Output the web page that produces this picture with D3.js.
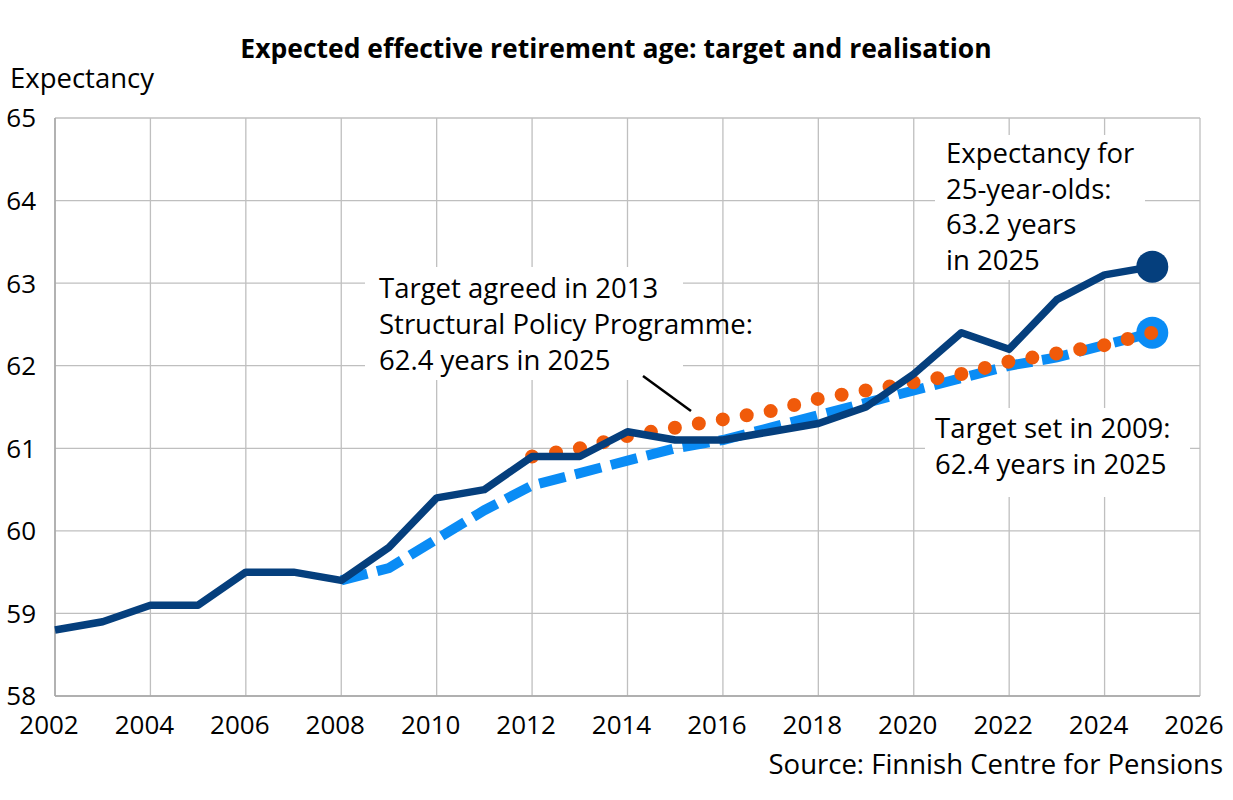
<!DOCTYPE html>
<html>
<head>
<meta charset="utf-8">
<script src="https://cdn.jsdelivr.net/npm/d3@7"></script>
<style>
  body { margin: 0; background: #fff; }
  text { font-family: "Open Sans", "Noto Sans", sans-serif; fill: #000; }
</style>
</head>
<body>
<div id="chart"></div>
<script>
// actual expectancy for 25-year-olds
var actualYears = [2002, 2003, 2004, 2005, 2006, 2007, 2008, 2009, 2010, 2011, 2012, 2013,
                   2014, 2015, 2016, 2017, 2018, 2019, 2020, 2021, 2022, 2023, 2024, 2025];
var actualValues = [58.8, 58.9, 59.1, 59.1, 59.5, 59.5, 59.4, 59.8, 60.4, 60.5, 60.9, 60.9,
                    61.2, 61.1, 61.1, 61.2, 61.3, 61.5, 61.9, 62.4, 62.2, 62.8, 63.1, 63.2];

// target set in 2009
var target2009Years = [2008, 2009, 2010, 2011, 2012, 2013, 2014, 2015, 2016, 2017, 2018,
                       2019, 2020, 2021, 2022, 2023, 2024, 2025];
var target2009Values = [59.4, 59.55, 59.9, 60.25, 60.55, 60.7, 60.85, 61.0, 61.1, 61.25, 61.4,
                        61.55, 61.7, 61.85, 62.0, 62.1, 62.25, 62.4];

// target agreed in 2013
var target2013Years = [2012, 2013, 2014, 2015, 2016, 2017, 2018, 2019, 2020, 2021, 2022,
                       2023, 2024, 2025];
var target2013Values = [60.9, 61.0, 61.15, 61.25, 61.35, 61.45, 61.6, 61.7, 61.8, 61.9, 62.05,
                        62.15, 62.25, 62.4];

var xTicks = [2002, 2004, 2006, 2008, 2010, 2012, 2014, 2016, 2018, 2020, 2022, 2024, 2026];
var yTicks = [58, 59, 60, 61, 62, 63, 64, 65];

var width = 1233;
var height = 800;
var margin = {top: 118, left: 55, bottom: 104, right: 33};

var svg = d3.select("#chart").append("svg")
  .attr("width", width)
  .attr("height", height);

var x = d3.scaleLinear().domain([2002, 2026]).range([margin.left, width - margin.right]);
var y = d3.scaleLinear().domain([58, 65]).range([height - margin.bottom, margin.top]);

function zip(xs, vs) {
  return xs.map(function(d, i) { return {year: d, value: vs[i]}; });
}

// grid
var grid = svg.append("g").attr("stroke", "#bfbfbf").attr("stroke-width", 1.3);
grid.selectAll(".vgrid").data(xTicks).enter().append("line")
  .attr("x1", function(d) { return x(d); })
  .attr("x2", function(d) { return x(d); })
  .attr("y1", y(58)).attr("y2", y(65));
grid.selectAll(".hgrid").data(yTicks).enter().append("line")
  .attr("x1", x(2002)).attr("x2", x(2026))
  .attr("y1", function(d) { return y(d); })
  .attr("y2", function(d) { return y(d); });
svg.append("line")
  .attr("x1", x(2002)).attr("x2", x(2002))
  .attr("y1", y(58)).attr("y2", y(65))
  .attr("stroke", "#a6a6a6").attr("stroke-width", 1.5);
svg.append("line")
  .attr("x1", x(2002)).attr("x2", x(2026))
  .attr("y1", y(58)).attr("y2", y(58))
  .attr("stroke", "#a6a6a6").attr("stroke-width", 1.5);

// white label boxes hide the grid
var boxes = [
  {x: 365, y: 267, w: 318, h: 113},
  {x: 935, y: 135, w: 210, h: 145},
  {x: 925, y: 408, w: 265, h: 89}
];
svg.selectAll(".box").data(boxes).enter().append("rect")
  .attr("x", function(d) { return d.x; })
  .attr("y", function(d) { return d.y; })
  .attr("width", function(d) { return d.w; })
  .attr("height", function(d) { return d.h; })
  .attr("fill", "#fff");

// axes labels
svg.selectAll(".ylab").data(yTicks).enter().append("text")
  .attr("x", 36)
  .attr("y", function(d) { return y(d); })
  .attr("dy", "0.36em")
  .attr("text-anchor", "end")
  .attr("font-size", "26px")
  .text(function(d) { return d; });

svg.selectAll(".xlab").data(xTicks).enter().append("text")
  .attr("x", function(d) { return x(d) - 6; })
  .attr("y", 734)
  .attr("text-anchor", "middle")
  .attr("font-size", "26px")
  .text(function(d) { return d; });

svg.append("text")
  .attr("x", 10).attr("y", 88)
  .attr("font-size", "27.5px")
  .text("Expectancy");

svg.append("text")
  .attr("x", 616).attr("y", 58)
  .attr("text-anchor", "middle")
  .attr("font-size", "26.5px")
  .attr("font-weight", "bold")
  .text("Expected effective retirement age: target and realisation");

svg.append("text")
  .attr("x", 1223).attr("y", 774)
  .attr("text-anchor", "end")
  .attr("font-size", "27.5px")
  .text("Source: Finnish Centre for Pensions");

// lines
var line = d3.line()
  .x(function(d) { return x(d.year); })
  .y(function(d) { return y(d.value); });

var t2009 = zip(target2009Years, target2009Values);
var t2013 = zip(target2013Years, target2013Values);
var actual = zip(actualYears, actualValues);

svg.append("path")
  .datum(t2009)
  .attr("d", line)
  .attr("fill", "none")
  .attr("stroke", "#0a8cf5")
  .attr("stroke-width", 10)
  .attr("stroke-dasharray", "27,10");

svg.append("circle")
  .attr("cx", x(t2009[t2009.length - 1].year))
  .attr("cy", y(t2009[t2009.length - 1].value))
  .attr("r", 16)
  .attr("fill", "#0a8cf5");

svg.append("path")
  .datum(t2013)
  .attr("d", line)
  .attr("fill", "none")
  .attr("stroke", "#f05a0a")
  .attr("stroke-width", 14)
  .attr("stroke-linecap", "round")
  .attr("stroke-dasharray", "0,24.3");

svg.append("path")
  .datum(actual)
  .attr("d", line)
  .attr("fill", "none")
  .attr("stroke", "#053f7d")
  .attr("stroke-width", 7.5)
  .attr("stroke-linejoin", "round");

svg.append("circle")
  .attr("cx", x(actual[actual.length - 1].year))
  .attr("cy", y(actual[actual.length - 1].value))
  .attr("r", 16)
  .attr("fill", "#053f7d");

// annotations
var notes = [
  {x: 379, y: 298, lines: ["Target agreed in 2013", "Structural Policy Programme:", "62.4 years in 2025"], gap: 36},
  {x: 946, y: 163, lines: ["Expectancy for", "25-year-olds:", "63.2 years", "in 2025"], gap: 35.5},
  {x: 935, y: 438, lines: ["Target set in 2009:", "62.4 years in 2025"], gap: 35.5}
];
notes.forEach(function(n) {
  var t = svg.append("text")
    .attr("x", n.x).attr("y", n.y)
    .attr("font-size", "27.5px");
  n.lines.forEach(function(s, i) {
    t.append("tspan").attr("x", n.x).attr("y", n.y + i * n.gap).text(s);
  });
});

svg.append("line")
  .attr("x1", 643).attr("y1", 376)
  .attr("x2", 691).attr("y2", 411)
  .attr("stroke", "#000")
  .attr("stroke-width", 2.5);
</script>
</body>
</html>
